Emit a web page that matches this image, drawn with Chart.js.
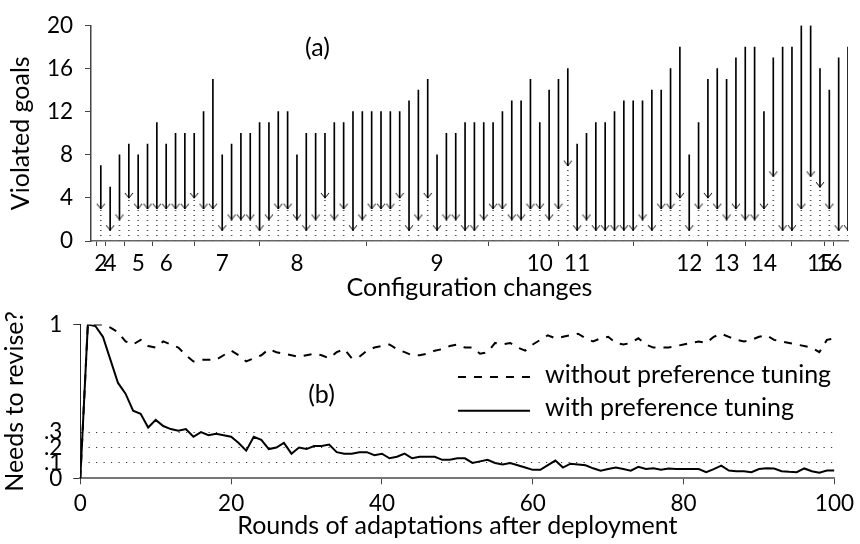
<!DOCTYPE html>
<html>
<head>
<meta charset="utf-8">
<script src="https://cdn.jsdelivr.net/npm/chart.js@4.4.1/dist/chart.umd.min.js"></script>
<style>
  html, body { margin: 0; padding: 0; background: #fff; }
  #wrap { position: relative; width: 860px; height: 544px; overflow: hidden; }
  #top { position: absolute; left: 0; top: 0; }
  #bottom { position: absolute; left: 0; top: 300px; }
</style>
</head>
<body>
<div id="wrap">
  <canvas id="top" width="860" height="310"></canvas>
  <canvas id="bottom" width="860" height="244"></canvas>
</div>
<script>
/* ============ DATA (a): violated goals per configuration change ============ */
const goalsBefore = [
  7, 5, 8, 9, 8, 9, 11, 9, 10, 10, 10, 12, 15, 8, 9, 10, 10, 11, 11, 12, 12, 8,
  10, 10, 10, 11, 11, 12, 12, 12, 12, 12, 12, 13, 14, 15, 8, 10, 10, 11, 11, 11, 11, 12, 13, 13, 15, 11, 14, 15, 16, 9,
  10, 11, 11, 12, 13, 13, 13, 14, 14, 16, 18, 8, 11, 15, 16, 15, 17, 18, 18, 12, 17, 18, 18, 20, 20, 16, 14, 17, 18
];
const goalsAfter = [
  3, 1, 2, 4, 3, 3, 3, 3, 3, 3, 4, 3, 3, 1, 2, 2, 2, 1, 2, 3, 3, 2,
  1, 2, 4, 2, 3, 1, 2, 3, 3, 3, 4, 1, 2, 4, 1, 2, 2, 1, 1, 2, 3, 3, 2, 2, 3, 3, 2, 3, 7, 1,
  2, 1, 1, 1, 1, 1, 2, 1, 3, 3, 4, 1, 3, 4, 3, 2, 3, 2, 2, 3, 6, 1, 1, 3, 6, 5, 3, 1, 1
];
const changeTickIdx = [0, 1, 4, 7, 13, 21, 36, 47, 51, 63, 67, 71, 77, 78];
const changeTickLabels = ["2", "4", "5", "6", "7", "8", "9", "10", "11", "12", "13", "14", "15", "16"];
const goalTicks = [0, 4, 8, 12, 16, 20];

/* ============ DATA (b): needs to revise per round ============ */
const withoutTuning = [
  0,
  1.0, 1.0, 1.0, 0.98, 0.95, 0.89, 0.87, 0.90, 0.86, 0.85,
  0.89, 0.87, 0.85, 0.80, 0.76, 0.77, 0.77, 0.77, 0.80, 0.83,
  0.80, 0.76, 0.78, 0.80, 0.84, 0.82, 0.81, 0.80, 0.79, 0.80,
  0.81, 0.80, 0.78, 0.82, 0.84, 0.78, 0.79, 0.83, 0.85, 0.86,
  0.87, 0.84, 0.82, 0.80, 0.80, 0.81, 0.83, 0.84, 0.86, 0.87,
  0.85, 0.85, 0.81, 0.82, 0.88, 0.87, 0.88, 0.85, 0.83, 0.87,
  0.90, 0.93, 0.91, 0.92, 0.93, 0.94, 0.91, 0.89, 0.91, 0.92,
  0.88, 0.87, 0.88, 0.91, 0.87, 0.85, 0.85, 0.85, 0.86, 0.87,
  0.88, 0.89, 0.88, 0.92, 0.94, 0.92, 0.90, 0.89, 0.90, 0.92,
  0.93, 0.90, 0.89, 0.88, 0.87, 0.86, 0.85, 0.82, 0.90, 0.91
];
const withTuning = [
  0,
  1.0, 0.99, 0.92, 0.77, 0.62, 0.55, 0.44, 0.42, 0.33, 0.38,
  0.34, 0.32, 0.31, 0.32, 0.27, 0.30, 0.28, 0.29, 0.28, 0.27,
  0.23, 0.18, 0.27, 0.25, 0.19, 0.20, 0.23, 0.16, 0.20, 0.19,
  0.21, 0.21, 0.22, 0.17, 0.16, 0.16, 0.17, 0.17, 0.15, 0.16,
  0.13, 0.14, 0.16, 0.13, 0.14, 0.14, 0.14, 0.12, 0.12, 0.13,
  0.13, 0.10, 0.11, 0.12, 0.10, 0.09, 0.10, 0.085, 0.07, 0.055,
  0.055, 0.085, 0.115, 0.07, 0.095, 0.09, 0.085, 0.065, 0.05, 0.06,
  0.07, 0.06, 0.05, 0.075, 0.06, 0.066, 0.056, 0.064, 0.06, 0.06,
  0.06, 0.06, 0.04, 0.06, 0.082, 0.05, 0.046, 0.046, 0.04, 0.06,
  0.066, 0.064, 0.046, 0.042, 0.04, 0.064, 0.046, 0.036, 0.05, 0.05
];
const roundTicks = [0, 20, 40, 60, 80, 100];
const reviseTicks = [0, 0.1, 0.2, 0.3, 1];
const reviseTickLabels = ["0", ".1", ".2", ".3", "1"];

/* ============ FONTS ============ */
const FAMILY = "Lato, 'DejaVu Sans', sans-serif";
const FS = 25;        // titles, legend, panel tags
const FS_TICK = 22.5; // tick numbers
const font = { family: FAMILY, size: FS };
const tickFont = { family: FAMILY, size: FS_TICK };

// text like "(a)" placed on the panel
const panelTag = {
  id: "panelTag",
  afterDraw(chart, args, opts) {
    const { ctx } = chart;
    ctx.save();
    ctx.font = FS + "px " + FAMILY;
    ctx.fillStyle = "#000";
    ctx.textAlign = "center";
    ctx.textBaseline = "middle";
    ctx.fillText(opts.text, opts.x, opts.y);
    ctx.restore();
  }
};

/* ============ PANEL (a) ============ */
const topCanvas = document.getElementById("top");
const topCtx = topCanvas.getContext("2d");

// open arrow head, tip in the middle of the image
const arrowHead = document.createElement("canvas");
arrowHead.width = 10; arrowHead.height = 12;
(() => {
  const g = arrowHead.getContext("2d");
  g.strokeStyle = "#000";
  g.lineWidth = 1;
  g.beginPath();
  g.moveTo(1, 1); g.lineTo(5, 6); g.lineTo(9, 1);
  g.stroke();
})();

// dotted fill for the stems under each arrow
const dotTile = document.createElement("canvas");
dotTile.width = 1; dotTile.height = 5;
dotTile.getContext("2d").fillStyle = "#555";
dotTile.getContext("2d").fillRect(0, 0, 1, 1);
const dotPattern = topCtx.createPattern(dotTile, "repeat");

new Chart(topCanvas, {
  type: "bar",
  data: {
    datasets: [
      {
        type: "scatter",
        data: goalsAfter.map((v, i) => ({ x: i, y: v })),
        pointStyle: arrowHead,
        pointRadius: 5,
        pointHoverRadius: 5
      },
      {
        data: goalsBefore.map((v, i) => ({ x: i, y: [goalsAfter[i], v] })),
        backgroundColor: "#000",
        barThickness: 1,
        grouped: false,
        borderWidth: 0
      },
      {
        data: goalsAfter.map((v, i) => ({ x: i, y: [0, v] })),
        backgroundColor: dotPattern,
        barThickness: 1,
        grouped: false,
        borderWidth: 0
      }
    ]
  },
  options: {
    responsive: false,
    animation: false,
    layout: { padding: { top: 15, right: 12, left: 0, bottom: 0 } },
    plugins: {
      legend: { display: false },
      tooltip: { enabled: false },
      panelTag: { text: "(a)", x: 317.5, y: 48 }
    },
    scales: {
      x: {
        type: "linear",
        min: -1.05,
        max: 80,
        offset: false,
        afterBuildTicks: s => { s.ticks = changeTickIdx.map(v => ({ value: v })); },
        afterFit: s => { s.height = 69; },
        ticks: {
          autoSkip: false,
          maxRotation: 0,
          padding: 4,
          color: "#000",
          font: tickFont,
          callback: v => changeTickLabels[changeTickIdx.indexOf(v)]
        },
        grid: { drawOnChartArea: false, tickLength: 5, color: "#444" },
        border: { color: "#666", width: 1.5 },
        title: {
          display: true,
          text: "Configuration changes",
          color: "#000",
          font: font,
          padding: { top: 0, bottom: 7.5 }
        }
      },
      y: {
        min: 0,
        max: 20,
        afterBuildTicks: s => { s.ticks = goalTicks.map(v => ({ value: v })); },
        afterFit: s => { s.width = 91; },
        ticks: { padding: 12, color: "#000", font: tickFont },
        grid: { drawOnChartArea: false, tickLength: 6, color: "#444" },
        border: { color: "#444", width: 1.5 },
        title: {
          display: true,
          text: "Violated goals",
          color: "#000",
          font: font,
          padding: { top: 6.3, bottom: 0 }
        }
      }
    }
  },
  plugins: [panelTag]
});

/* ============ PANEL (b) ============ */
const manualLegend = {
  id: "manualLegend",
  afterDraw(chart) {
    const { ctx } = chart;
    chart.data.datasets.forEach((ds, i) => {
      const y = 77 + i * 33.7;
      ctx.save();
      ctx.strokeStyle = ds.borderColor;
      ctx.lineWidth = ds.borderWidth;
      ctx.setLineDash(ds.borderDash || []);
      ctx.beginPath();
      ctx.moveTo(458, y);
      ctx.lineTo(530, y);
      ctx.stroke();
      ctx.setLineDash([]);
      ctx.fillStyle = "#000";
      ctx.font = FS + "px " + FAMILY;
      ctx.textBaseline = "middle";
      ctx.fillText(ds.label, 545, y - 2.3);
      ctx.restore();
    });
  }
};

new Chart(document.getElementById("bottom"), {
  type: "line",
  data: {
    datasets: [
      {
        label: "without preference tuning",
        data: withoutTuning.map((v, i) => ({ x: i, y: v })),
        borderColor: "#000",
        borderWidth: 2,
        borderDash: [8, 8],
        pointRadius: 0,
        tension: 0
      },
      {
        label: "with preference tuning",
        data: withTuning.map((v, i) => ({ x: i, y: v })),
        borderColor: "#000",
        borderWidth: 2,
        pointRadius: 0,
        tension: 0
      }
    ]
  },
  options: {
    responsive: false,
    animation: false,
    layout: { padding: { top: 11.7, right: 24, left: 0, bottom: 0 } },
    plugins: {
      legend: { display: false },
      tooltip: { enabled: false },
      panelTag: { text: "(b)", x: 321.5, y: 94.5 }
    },
    scales: {
      x: {
        type: "linear",
        min: 0,
        max: 100,
        afterBuildTicks: s => { s.ticks = roundTicks.map(v => ({ value: v })); },
        afterFit: s => { s.height = 65.7; },
        ticks: { autoSkip: false, maxRotation: 0, padding: 6, color: "#000", font: tickFont },
        grid: { drawOnChartArea: false, tickLength: 6, color: "#444" },
        border: { color: "#777", width: 2 },
        title: {
          display: true,
          text: "Rounds of adaptations after deployment",
          color: "#000",
          font: font,
          padding: { top: 0, bottom: 3 }
        }
      },
      y: {
        min: 0,
        max: 1,
        afterBuildTicks: s => { s.ticks = reviseTicks.map(v => ({ value: v })); },
        afterFit: s => { s.width = 80.3; },
        ticks: {
          autoSkip: false,
          padding: 11,
          color: "#000",
          font: tickFont,
          callback: v => reviseTickLabels[reviseTicks.indexOf(v)]
        },
        grid: {
          tickLength: 7,
          color: c => (c.tick && c.tick.value > 0 && c.tick.value < 1) ? "#333" : "rgba(0,0,0,0)",
          tickColor: c => (c.tick && (c.tick.value === 0 || c.tick.value === 1)) ? "#333" : "rgba(0,0,0,0)"
        },
        border: { color: "#222", width: 1, dash: [1.2, 6.3] },
        title: {
          display: true,
          text: "Needs to revise?",
          color: "#000",
          font: font,
          padding: { top: 0, bottom: 0 }
        }
      }
    }
  },
  plugins: [panelTag, manualLegend]
});
</script>
</body>
</html>
